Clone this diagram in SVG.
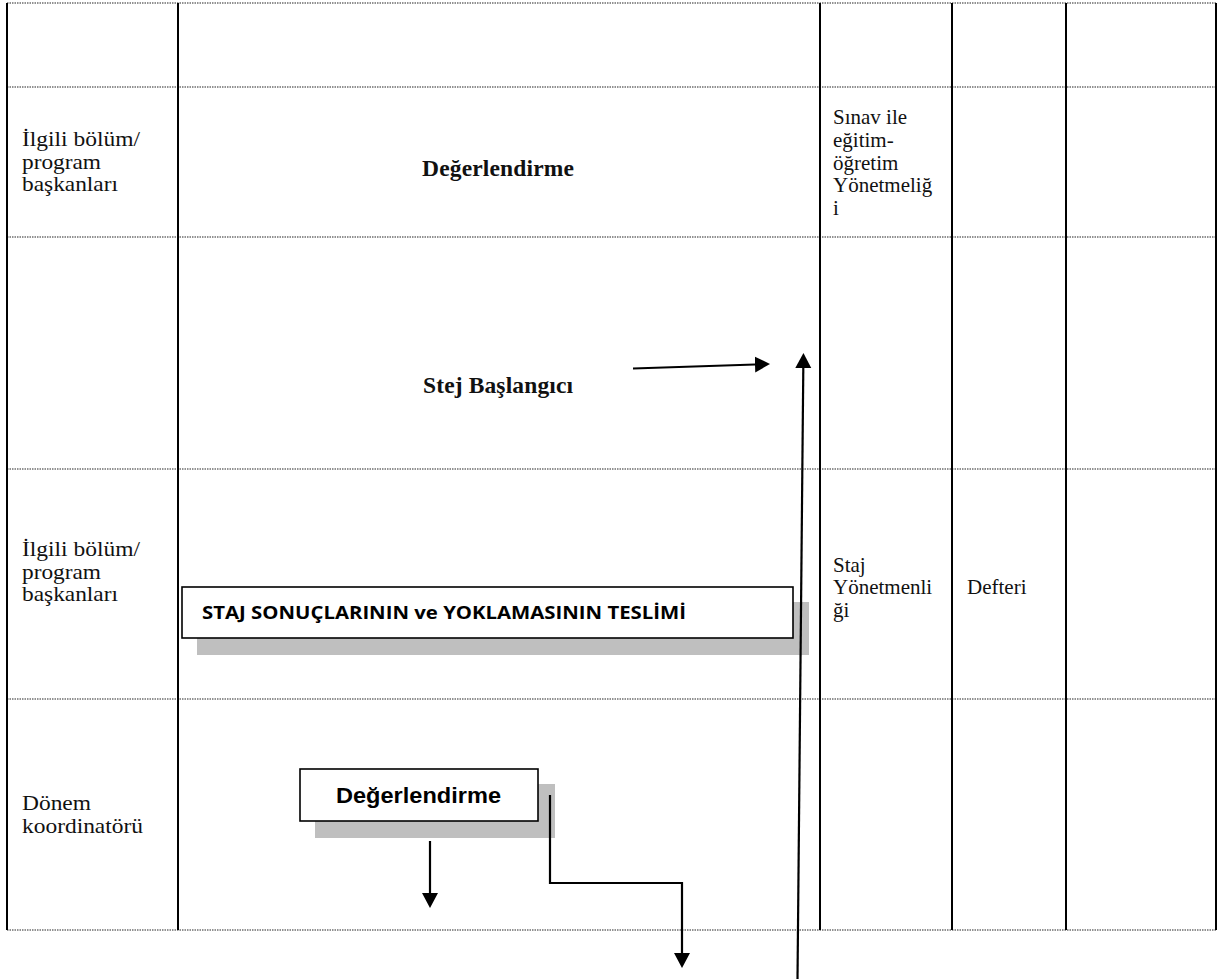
<svg xmlns="http://www.w3.org/2000/svg" width="1217" height="979" viewBox="0 0 1217 979">
<style>
.grid-h{stroke:#6e6e6e;stroke-width:1.3;stroke-dasharray:1.5 1;fill:none}
.grid-v{stroke:#000;stroke-width:2;fill:none}
.t{font-family:"Liberation Serif","Times New Roman",serif;font-size:21px;fill:#111}
.t1{font-family:"Liberation Serif","Times New Roman",serif;font-size:21.5px;fill:#111}
.tb{font-family:"Liberation Serif","Times New Roman",serif;font-size:23.5px;font-weight:bold;fill:#111}
.box{fill:#fff;stroke:#000;stroke-width:1.6}
.shadow{fill:#bfbfbf;stroke:none}
.conn{stroke:#000;stroke-width:2.2;fill:none}
</style>
<defs>
<marker id="ah" markerUnits="userSpaceOnUse" markerWidth="16" markerHeight="17" refX="0" refY="8" orient="auto">
<path d="M0,0 L15,8 L0,16 z" fill="#000"/>
</marker>
</defs>
<rect x="0" y="0" width="1217" height="979" fill="#fff"/>
<g id="table">
<line class="grid-h" x1="7" y1="3" x2="1217" y2="3"/>
<line class="grid-h" x1="7" y1="87" x2="1217" y2="87"/>
<line class="grid-h" x1="7" y1="237" x2="1217" y2="237"/>
<line class="grid-h" x1="7" y1="469" x2="1217" y2="469"/>
<line class="grid-h" x1="7" y1="699" x2="1217" y2="699"/>
<line class="grid-h" x1="7" y1="930" x2="1217" y2="930"/>
<line class="grid-v" x1="7" y1="3" x2="7" y2="930"/>
<line class="grid-v" x1="178" y1="3" x2="178" y2="930"/>
<line class="grid-v" x1="820" y1="3" x2="820" y2="930"/>
<line class="grid-v" x1="952" y1="3" x2="952" y2="930"/>
<line class="grid-v" x1="1066" y1="3" x2="1066" y2="930"/>
<line class="grid-v" x1="1216" y1="3" x2="1216" y2="930"/>
</g>
<g id="labels-col1">
<text class="t1" x="22" y="146" textLength="118" lengthAdjust="spacingAndGlyphs">İlgili bölüm/</text>
<text class="t1" x="22" y="168.5" textLength="79" lengthAdjust="spacingAndGlyphs">program</text>
<text class="t1" x="22" y="191" textLength="96" lengthAdjust="spacingAndGlyphs">başkanları</text>
<text class="t1" x="22" y="556" textLength="118" lengthAdjust="spacingAndGlyphs">İlgili bölüm/</text>
<text class="t1" x="22" y="578.5" textLength="79" lengthAdjust="spacingAndGlyphs">program</text>
<text class="t1" x="22" y="601" textLength="96" lengthAdjust="spacingAndGlyphs">başkanları</text>
<text class="t1" x="22" y="810" textLength="69" lengthAdjust="spacingAndGlyphs">Dönem</text>
<text class="t1" x="22" y="832.5" textLength="121" lengthAdjust="spacingAndGlyphs">koordinatörü</text>
</g>
<g id="labels-col3">
<text class="t" x="833" y="124">Sınav ile</text>
<text class="t" x="833" y="146.75">eğitim-</text>
<text class="t" x="833" y="169.5">öğretim</text>
<text class="t" x="833" y="192.25">Yönetmeliğ</text>
<text class="t" x="833" y="215">i</text>
<text class="t" x="833" y="571.5">Staj</text>
<text class="t" x="833" y="594">Yönetmenli</text>
<text class="t" x="833" y="616.5">ği</text>
<text class="t" x="967" y="594">Defteri</text>
</g>
<g id="node-degerlendirme-top">
<text class="tb" x="422" y="176" textLength="152">Değerlendirme</text>
</g>
<g id="node-stej">
<text class="tb" x="423" y="393" textLength="150">Stej Başlangıcı</text>
</g>
<g id="node-staj-sonuclari">
<rect class="shadow" x="197" y="602" width="612" height="53"/>
<rect class="box" x="182" y="587" width="611" height="51"/>
<text x="202" y="619" textLength="484" lengthAdjust="spacingAndGlyphs" style="font-family:'Open Sans','Liberation Sans',sans-serif;font-size:18px;font-weight:bold;fill:#000">STAJ SONUÇLARININ ve YOKLAMASININ TESLİMİ</text>
</g>
<g id="node-degerlendirme-box">
<rect class="shadow" x="315" y="784" width="240" height="54"/>
<rect class="box" x="300" y="769" width="238" height="52"/>
<text x="336" y="803" textLength="165" lengthAdjust="spacingAndGlyphs" style="font-family:'Liberation Sans',Arial,sans-serif;font-size:21.5px;font-weight:bold;fill:#000">Değerlendirme</text>
</g>
<g id="connectors">
<line class="conn" x1="633" y1="368.5" x2="755" y2="364.5" marker-end="url(#ah)"/>
<line class="conn" x1="797.5" y1="979" x2="803.3" y2="368" marker-end="url(#ah)"/>
<line class="conn" x1="430" y1="841" x2="430" y2="893" marker-end="url(#ah)"/>
<polyline class="conn" points="550,795 550,883 682,883 682,953" marker-end="url(#ah)"/>
</g>
</svg>
